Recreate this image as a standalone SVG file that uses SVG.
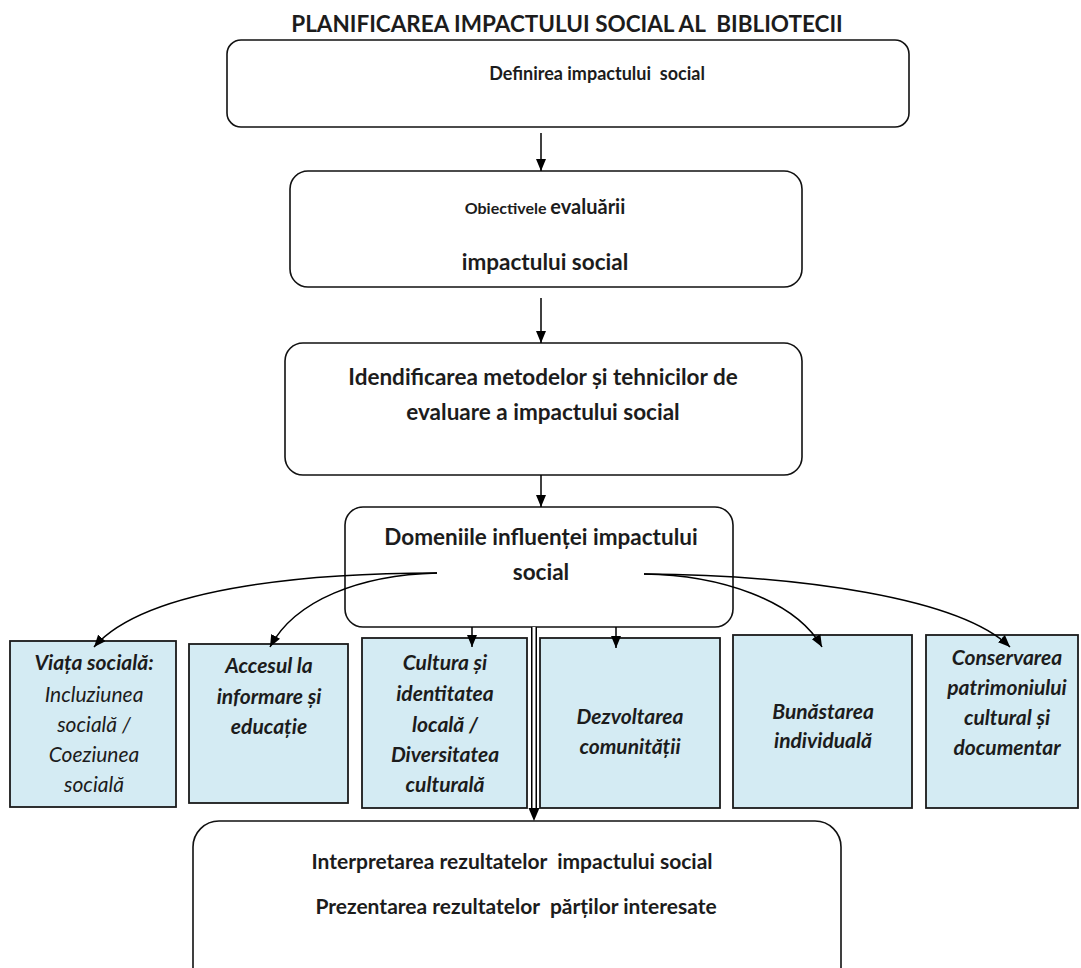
<svg xmlns="http://www.w3.org/2000/svg" width="1081" height="968" viewBox="0 0 1081 968">
<defs>
<style>
.t{font-family:Lato,"Open Sans","Liberation Sans",sans-serif;fill:#1c1c1c;text-anchor:middle}
.b{font-weight:bold}
.i{font-style:italic}
.main{fill:#fff;stroke:#111;stroke-width:1.6}
.dom{fill:#d4ebf3;stroke:#1a1a1a;stroke-width:1.8}
.ln{fill:none;stroke:#000;stroke-width:1.5}
.sm{font-size:21px}
</style>
<marker id="ah" viewBox="0 0 12 10" refX="12" refY="5" markerWidth="12" markerHeight="10" markerUnits="userSpaceOnUse" orient="auto">
<path d="M0,0 L12,5 L0,10 Z" fill="#000"/>
</marker>
</defs>
<rect width="1081" height="968" fill="#fff"/>
<text class="t b" x="567" y="32" font-size="22.5" xml:space="preserve">PLANIFICAREA IMPACTULUI SOCIAL AL  BIBLIOTECII</text>

<g id="n1">
<rect class="main" x="227" y="40" width="682" height="87" rx="14"/>
<text class="t b" x="597" y="80" font-size="18" xml:space="preserve">Definirea impactului  social</text>
</g>
<g id="n2">
<rect class="main" x="290" y="171" width="512" height="116" rx="18"/>
<text class="t b" x="545" y="214" font-size="20"><tspan font-size="16">Obiectivele </tspan>evaluării</text>
<text class="t b" x="545" y="270" font-size="22.5">impactului social</text>
</g>
<g id="n3">
<rect class="main" x="285" y="343" width="517" height="132" rx="18"/>
<text class="t b" x="543" y="385" font-size="22.5">Idendificarea metodelor și tehnicilor de</text>
<text class="t b" x="543" y="420" font-size="22.5">evaluare a impactului social</text>
</g>
<g id="n4">
<rect class="main" x="345" y="507" width="388" height="120" rx="18"/>
<text class="t b" x="541" y="545" font-size="22.5">Domeniile influenței impactului</text>
<text class="t b" x="541" y="580" font-size="22.5">social</text>
</g>

<g id="d1">
<rect class="dom" x="10" y="641" width="166" height="166"/>
<text class="t sm"><tspan class="b i" x="94" y="670">Viața socială:</tspan><tspan class="i" x="94" y="702">Incluziunea</tspan><tspan class="i" x="94" y="732">socială /</tspan><tspan class="i" x="94" y="762">Coeziunea</tspan><tspan class="i" x="94" y="792">socială</tspan></text>
</g>
<g id="d2">
<rect class="dom" x="189" y="644" width="159" height="159"/>
<text class="t b i sm"><tspan x="269" y="673">Accesul la</tspan><tspan x="269" y="704">informare și</tspan><tspan x="269" y="734">educație</tspan></text>
</g>
<g id="d3">
<rect class="dom" x="362" y="638" width="165" height="170"/>
<text class="t b i sm"><tspan x="445" y="670">Cultura și</tspan><tspan x="445" y="701">identitatea</tspan><tspan x="445" y="732">locală /</tspan><tspan x="445" y="762">Diversitatea</tspan><tspan x="445" y="792">culturală</tspan></text>
</g>
<g id="d4">
<rect class="dom" x="540" y="638" width="180" height="170"/>
<text class="t b i sm"><tspan x="630" y="724">Dezvoltarea</tspan><tspan x="630" y="754">comunității</tspan></text>
</g>
<g id="d5">
<rect class="dom" x="733" y="635" width="179" height="173"/>
<text class="t b i sm"><tspan x="823" y="719">Bunăstarea</tspan><tspan x="823" y="748">individuală</tspan></text>
</g>
<g id="d6">
<rect class="dom" x="926" y="635" width="152" height="173"/>
<text class="t b i sm"><tspan x="1007" y="665">Conservarea</tspan><tspan x="1007" y="695">patrimoniului</tspan><tspan x="1007" y="725">cultural și</tspan><tspan x="1007" y="755">documentar</tspan></text>
</g>

<g id="n5">
<rect class="main" x="193" y="821" width="648" height="180" rx="26"/>
<text class="t b" x="512" y="869" font-size="21" xml:space="preserve">Interpretarea rezultatelor  impactului social</text>
<text class="t b" x="516" y="914" font-size="21" xml:space="preserve">Prezentarea rezultatelor  părților interesate</text>
</g>

<g id="connectors">
<path class="ln" d="M541,133 V171" marker-end="url(#ah)"/>
<path class="ln" d="M541,298 V343" marker-end="url(#ah)"/>
<path class="ln" d="M541,475 V507" marker-end="url(#ah)"/>
<path class="ln" d="M437,573 C330,573 150,583 94,647" marker-end="url(#ah)"/>
<path class="ln" d="M437,573 C360,575 295,600 270,647" marker-end="url(#ah)"/>
<path class="ln" d="M472,627 V647" marker-end="url(#ah)"/>
<path class="ln" d="M616,627 V648" marker-end="url(#ah)"/>
<path class="ln" d="M644,574 C720,575 795,600 822,647" marker-end="url(#ah)"/>
<path class="ln" d="M644,574 C800,575 960,598 1010,647" marker-end="url(#ah)"/>
<path d="M534,627 V810" stroke="#000" stroke-width="6" fill="none"/>
<path d="M534,627 V810" stroke="#fff" stroke-width="3" fill="none"/>
<path d="M528.5,808 L539.5,808 L534,821 Z" fill="#000"/>
</g>
</svg>
